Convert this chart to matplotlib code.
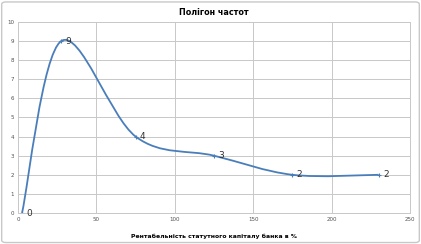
import matplotlib.pyplot as plt
import numpy as np
from matplotlib.path import Path
from matplotlib.patches import PathPatch, FancyBboxPatch

# interval midpoints (%) and frequencies
x_mid = [2.5, 27.5, 75, 125, 175, 230]
freq = [0, 9, 4, 3, 2, 2]
x_ticks = [0, 50, 100, 150, 200, 250]
y_ticks = list(range(0, 11))

fig = plt.figure(figsize=(4.21, 2.44), dpi=100)
fig.patches.append(FancyBboxPatch((0.004, 0.006), 0.992, 0.986,
                                  boxstyle="round,pad=0,rounding_size=0.01",
                                  transform=fig.transFigure, fc="white",
                                  ec="#c8c8c8", lw=1.0, zorder=-10))

ax = fig.add_axes([0.043, 0.127, 0.931, 0.783])
ax.set_xlim(0, 250)
ax.set_ylim(0, 10)
ax.set_xticks(x_ticks)
ax.set_yticks(y_ticks)
ax.tick_params(labelsize=4, length=0, pad=3, colors="#505050")
ax.grid(True, color="#c8c8c8", lw=0.7)
ax.set_axisbelow(True)
for s in ax.spines.values():
    s.set_color("#c8c8c8")
    s.set_linewidth(0.7)

# smoothed line like the spreadsheet (cubic bezier through the points)
xs = np.array(x_mid, dtype=float)
ys = np.array(freq, dtype=float)
verts = [(xs[0], ys[0])]
codes = [Path.MOVETO]
n = len(xs)
for i in range(n - 1):
    p0 = np.array([xs[max(i - 1, 0)], ys[max(i - 1, 0)]])
    p1 = np.array([xs[i], ys[i]])
    p2 = np.array([xs[i + 1], ys[i + 1]])
    p3 = np.array([xs[min(i + 2, n - 1)], ys[min(i + 2, n - 1)]])
    c1 = p1 + (p2 - p0) / 6
    c2 = p2 - (p3 - p1) / 6
    verts += [tuple(c1), tuple(c2), tuple(p2)]
    codes += [Path.CURVE4] * 3
ax.add_patch(PathPatch(Path(verts, codes), fc="none", ec="#4a7ebb", lw=1.3))
ax.plot(x_mid, freq, ls="none", marker="+", ms=3, mew=0.8, color="#4a7ebb")

for xv, yv in zip(x_mid, freq):
    ax.annotate(str(yv), (xv, yv), xytext=(3, 0), textcoords="offset points",
                va="center", ha="left", fontsize=6.5, color="#303030",
                annotation_clip=False)

ax.set_title("Полігон частот", fontsize=5.8, fontweight="bold", pad=5)
ax.set_xlabel("Рентабельність статутного капіталу банка в %",
              fontsize=4.4, fontweight="bold", labelpad=8)

fig.savefig("out.png", dpi=100)
